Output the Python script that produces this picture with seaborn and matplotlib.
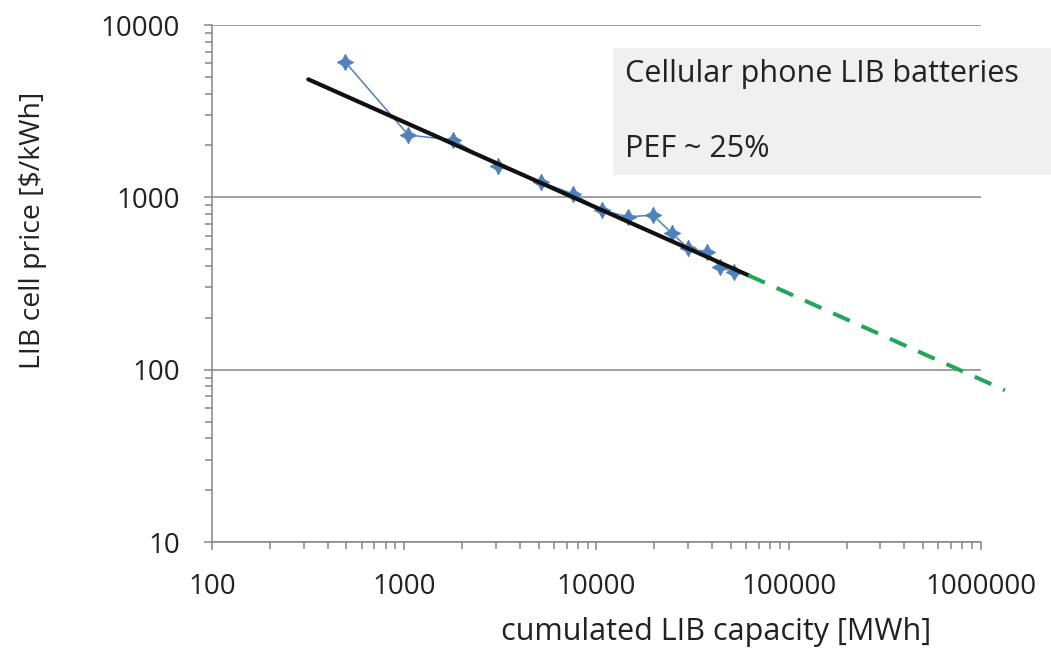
import seaborn as sns
import pandas as pd
import matplotlib.pyplot as plt
from matplotlib.patches import Rectangle
from matplotlib.ticker import FixedLocator, FixedFormatter, LogLocator, NullFormatter

capacity = [492, 1050, 1800, 3080, 5130, 7570, 10640, 14630, 19600, 24600, 30050, 37400, 43900, 51900]
price = [6120, 2300, 2150, 1517, 1230, 1044, 843, 771, 789, 622, 505, 483, 395, 369]

# experience curve fit and its projection
fit_x = [317, 61600]
fit_y = [4840, 353]
proj_x = [61600, 1330000]
proj_y = [353, 76]

xtick_vals = [100, 1000, 10000, 100000, 1000000]
xtick_labels = ["100", "1000", "10000", "100000", "1000000"]
ytick_vals = [10, 100, 1000, 10000]
ytick_labels = ["10", "100", "1000", "10000"]

data = pd.DataFrame({"capacity": capacity, "price": price})
fit = pd.DataFrame({"x": fit_x, "y": fit_y})
proj = pd.DataFrame({"x": proj_x, "y": proj_y})

sns.set_theme(style="ticks")
plt.rcParams['font.family'] = ['Open Sans', 'DejaVu Sans']

grey = "#868686"
fig = plt.figure(figsize=(10.51, 6.52), dpi=100)
ax = fig.add_axes([0.2017, 0.1687, 0.7317, 0.7929])

sns.lineplot(data=data, x="capacity", y="price", ax=ax, color="#4f81bd", lw=1.1,
             marker=(4, 1, 0), markersize=12, markeredgewidth=0.5,
             markeredgecolor="#4f81bd", sort=False, zorder=3)
sns.lineplot(data=fit, x="x", y="y", ax=ax, color="#111111", lw=3.0, zorder=4)
g = sns.lineplot(data=proj, x="x", y="y", ax=ax, color="#22a65a", lw=2.9, zorder=4)
g.lines[-1].set_dashes((4.5, 3.2))
g.lines[-1].set_clip_on(False)

ax.set_xscale("log")
ax.set_yscale("log")
ax.set_xlim(100, 1000000)
ax.set_ylim(10, 10000)

ax.xaxis.set_major_locator(FixedLocator(xtick_vals))
ax.xaxis.set_major_formatter(FixedFormatter(xtick_labels))
ax.yaxis.set_major_locator(FixedLocator(ytick_vals))
ax.yaxis.set_major_formatter(FixedFormatter(ytick_labels))
ax.xaxis.set_minor_locator(LogLocator(base=10, subs=range(2, 10), numticks=20))
ax.yaxis.set_minor_locator(LogLocator(base=10, subs=range(2, 10), numticks=20))
ax.xaxis.set_minor_formatter(NullFormatter())
ax.yaxis.set_minor_formatter(NullFormatter())

ax.tick_params(axis="both", which="both", direction="out", color=grey, width=1.1,
               labelsize=20, labelcolor="#222222")
ax.tick_params(axis="both", which="major", length=6)
ax.tick_params(axis="both", which="minor", length=5)
ax.tick_params(axis="y", which="major", pad=17)
ax.tick_params(axis="x", which="major", pad=16)

ax.grid(axis="y", which="major", color=grey, lw=1.1)
ax.grid(axis="x", visible=False)
for s in ["top", "right"]:
    ax.spines[s].set_visible(False)
for s in ["left", "bottom"]:
    ax.spines[s].set_color(grey)
    ax.spines[s].set_linewidth(1.1)

ax.set_xlabel("cumulated LIB capacity [MWh]", fontsize=22, color="#222222")
ax.set_ylabel("LIB cell price [$/kWh]", fontsize=20.5, color="#222222")
ax.xaxis.set_label_coords(0.655, -0.145)
ax.yaxis.set_label_coords(-0.215, 0.603)

ax.add_patch(Rectangle((0.5215, 0.71), 0.57, 0.2455, transform=ax.transAxes,
                       facecolor="#f0f0f0", edgecolor="none", clip_on=False, zorder=0.5))
ax.text(0.537, 0.905, "Cellular phone LIB batteries", transform=ax.transAxes,
        va="center", ha="left", fontsize=22, color="#222222")
ax.text(0.537, 0.760, "PEF ~ 25%", transform=ax.transAxes,
        va="center", ha="left", fontsize=22, color="#222222")

plt.savefig("out.png", dpi=100)
